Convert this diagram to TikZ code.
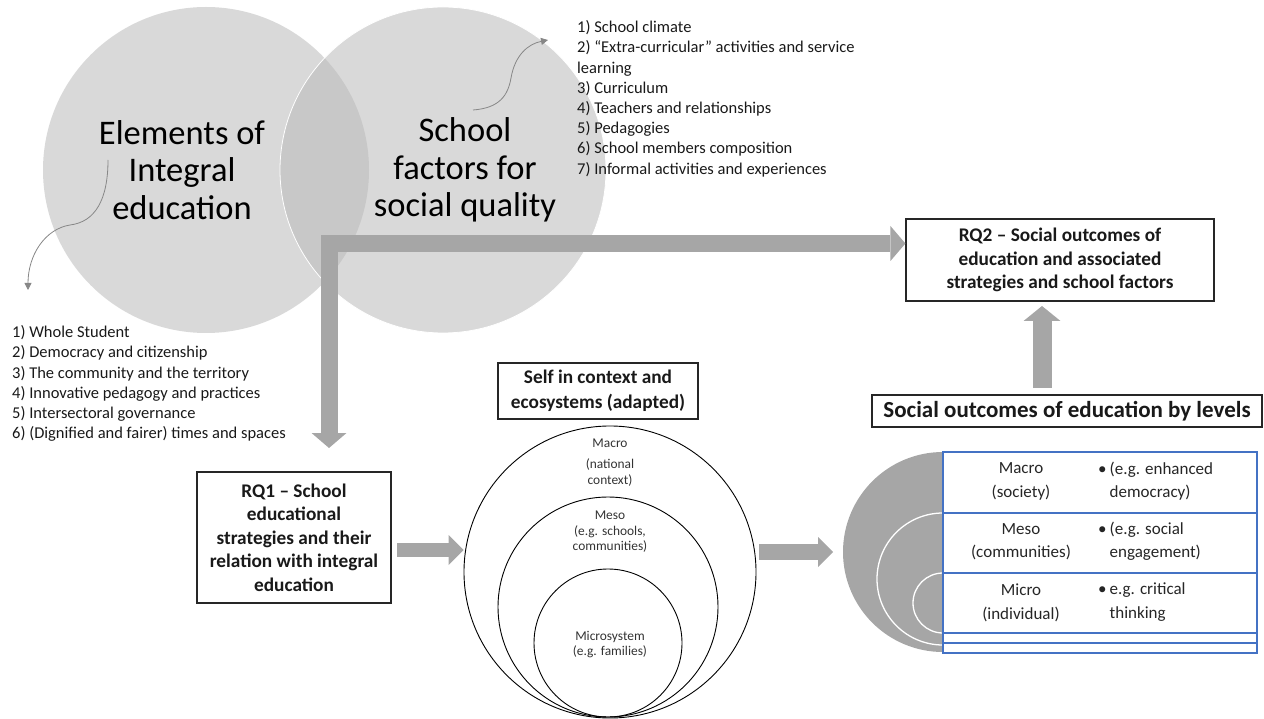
\documentclass[tikz,border=0pt]{standalone}
\usepackage{fontspec}
\setmainfont{Carlito}
\usetikzlibrary{arrows.meta}
\definecolor{vennC}{RGB}{217,217,217}
\definecolor{lensC}{RGB}{200,200,200}
\definecolor{arrowC}{RGB}{166,166,166}
\definecolor{curveC}{RGB}{135,135,135}
\definecolor{blueC}{RGB}{68,114,196}
\definecolor{txtC}{RGB}{25,25,25}
\begin{document}
\begin{tikzpicture}[x=1pt,y=-1pt,
  bigtitle/.style={align=center, inner sep=0pt, text=black, font=\fontsize{34.5}{37.5}\selectfont},
  listtxt/.style={align=left, inner sep=0pt, anchor=north west, text=txtC, font=\fontsize{16.5}{20.2}\selectfont},
  rqbox/.style={draw=black!85, line width=1.1pt, fill=white, align=center, inner sep=0pt, text=txtC, font=\bfseries\fontsize{19.3}{23.5}\selectfont},
  ecotxt/.style={align=center, inner sep=0pt, text=black!80, font=\fontsize{13.4}{15.5}\selectfont},
  tbltxt/.style={align=center, inner sep=0pt, text=black!85, font=\fontsize{17}{23.5}\selectfont},
  tblrow/.style={draw=blueC, line width=1.2pt, fill=white},
  curvy/.style={draw=curveC, line width=0.8pt, -{Triangle[length=7pt,width=7pt]}},
  barrow/.style 2 args={draw=arrowC, line width=#1, -{Triangle[length=15pt,width=#2,line width=0pt]}},
  darrow/.style 2 args={draw=arrowC, line width=#1, {Triangle[length=15pt,width=#2,line width=0pt]}-{Triangle[length=15pt,width=#2,line width=0pt]}},
  ecocirc/.style={draw=black, line width=0.9pt}
]
\useasboundingbox (0,0) rectangle (1264,719);

% Venn circles
\fill[vennC] (206,170) circle (163);
\fill[vennC] (443,170) circle (163);
\begin{scope}
  \clip (206,170) circle (163);
  \fill[lensC] (443,170) circle (163);
\end{scope}
\draw[white, line width=0.8pt] (443,170) circle (163);

\node[bigtitle] (elem) at (182,170) {Elements of\\Integral\\education};
\node[bigtitle] (sfac) at (465,170) {School\\factors for\\social quality};

% curvy arrows
\coordinate (cL1) at (108,160);
\coordinate (cL2) at (28,290);
\draw[curvy] (cL1) .. controls (108,200) and (95,222) .. (70,225) .. controls (45,229) and (28,255) .. (cL2);
\coordinate (cR1) at (473,110);
\coordinate (cR2) at (548,40);
\draw[curvy] (cR1) .. controls (500,108) and (508,95) .. (511,78) .. controls (515,55) and (528,44) .. (cR2);

% lists
\node[listtxt] (rlist) at (577,20.5) {1) School climate\\2) “Extra-curricular” activities and service\\learning\\3) Curriculum\\4) Teachers and relationships\\5) Pedagogies\\6) School members composition\\7) Informal activities and experiences};
\node[listtxt] (llist) at (12,325.5) {1) Whole Student\\2) Democracy and citizenship\\3) The community and the territory\\4) Innovative pedagogy and practices\\5) Intersectoral governance\\6) (Dignified and fairer) times and spaces};

% boxes
\node[rqbox, minimum width=308pt, minimum height=82pt] (rq2) at (1060,260) {RQ2 – Social outcomes of\\education and associated\\strategies and school factors};
\node[rqbox, minimum width=194pt, minimum height=131pt] (rq1) at (294,537.5) {RQ1 – School\\educational\\strategies and their\\relation with integral\\education};
\node[rqbox, minimum width=200pt, minimum height=56pt, font=\bfseries\fontsize{19.3}{25}\selectfont] (self) at (598,391) {Self in context and\\ecosystems (adapted)};
\node[rqbox, minimum width=390pt, minimum height=32pt, font=\bfseries\fontsize{23}{26}\selectfont] (solev) at (1067,411) {Social outcomes of education by levels};

% L-shaped arrow
\coordinate (Lv) at (329,448);
\coordinate (Lc) at (329,243.5);
\draw[darrow={17pt}{35pt}] (Lv) -- (Lc) -- (Lc -| rq2.west);

% ecosystem circles
\node[ecocirc, circle, minimum size=292pt, inner sep=0pt] (eco) at (610,572) {};
\node[ecocirc, circle, minimum size=220pt, inner sep=0pt] (meso) at (608,607) {};
\node[ecocirc, circle, minimum size=148pt, inner sep=0pt] (micro) at (608,643) {};
\node[ecotxt] (t1) at (610,443) {Macro};
\node[ecotxt] (t2) at (610,472.5) {(national\\context)};
\node[ecotxt] (t3) at (610,532) {Meso\\(e.g. schools,\\communities)};
\node[ecotxt] (t4) at (610,644.5) {Microsystem\\(e.g. families)};

% horizontal arrows
\coordinate (a1s) at (397,550);
\draw[barrow={14pt}{30pt}] (a1s) -- (a1s -| eco.west);
\coordinate (a2s) at (759,552);
\coordinate (a2e) at (833,552);
\draw[barrow={16pt}{30pt}] (a2s) -- (a2e);
% up arrow
\coordinate (a3s) at (1042,388);
\coordinate (a3e) at (1042,306);
\draw[barrow={19pt}{37pt}] (a3s) -- (a3e);

% nested target
\fill[arrowC] (943,552) circle (100);
\draw[white, line width=1.3pt] (943,579) circle (66);
\draw[white, line width=1.3pt] (943,603) circle (30);

% table
\draw[tblrow] (943,452) rectangle (1257,513);
\draw[tblrow] (943,513) rectangle (1257,573);
\draw[tblrow] (943,573) rectangle (1257,633);
\draw[tblrow] (943,633) rectangle (1257,643);
\draw[tblrow] (943,643) rectangle (1257,653);

\node[tbltxt] (c11) at (1021,481.5) {Macro\\(society)};
\node[tbltxt] (c21) at (1021,541.5) {Meso\\(communities)};
\node[tbltxt] (c31) at (1021,603) {Micro\\(individual)};
\node[tbltxt, anchor=west, align=left] (c12) at (1098,481.5) {\begin{tabular}{@{}l@{\hspace{3pt}}l@{}}•&(e.g. enhanced\\&democracy)\end{tabular}};
\node[tbltxt, anchor=west, align=left] (c22) at (1098,541.5) {\begin{tabular}{@{}l@{\hspace{3pt}}l@{}}•&(e.g. social\\&engagement)\end{tabular}};
\node[tbltxt, anchor=west, align=left] (c32) at (1098,602) {\begin{tabular}{@{}l@{\hspace{3pt}}l@{}}•&e.g. critical\\&thinking\end{tabular}};
\end{tikzpicture}
\end{document}
